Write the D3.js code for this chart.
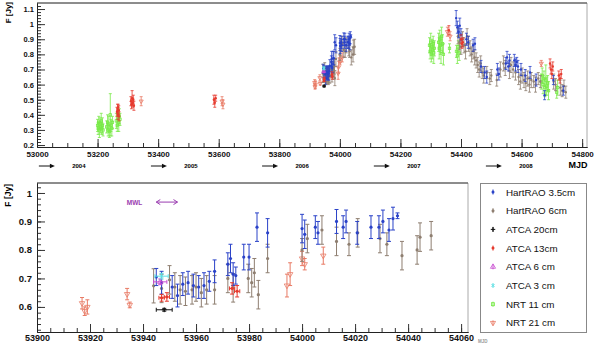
<!DOCTYPE html>
<html>
<head>
<meta charset="utf-8">
<script src="https://cdn.jsdelivr.net/npm/d3@7"></script>
<style>
  body { margin: 0; background: #fff; }
  text { font-family: "Liberation Sans", Arial, sans-serif; }
</style>
</head>
<body>
<svg id="chart" width="600" height="345"></svg>
<script>
// [MJD, flux (Jy), flux error] (+ MJD error for ATCA)
const hart35 = [
  [53945,0.705,0.03],[53947,0.685,0.04],[53951,0.67,0.04],[53953,0.64,0.04],[53955,0.68,0.04],
  [53957,0.685,0.04],[53959,0.675,0.04],[53961,0.67,0.04],[53963,0.675,0.045],[53965,0.69,0.035],
  [53967,0.725,0.04],[53972,0.75,0.04],[53973,0.77,0.05],[53974,0.715,0.04],[53975,0.71,0.03],
  [53978,0.775,0.045],[53980,0.775,0.045],[53983,0.88,0.05],[53987,0.86,0.05],[54000,0.875,0.05],
  [54001,0.855,0.05],[54005,0.88,0.04],[54006,0.86,0.04],[54013,0.9,0.042],[54015.5,0.88,0.04],
  [54016.6,0.9,0.04],[54020.8,0.86,0.04],[54026,0.88,0.04],[54029,0.88,0.04],[54030.5,0.9,0.04],
  [54032.8,0.87,0.04],[54034.3,0.91,0.04],[54036,0.92,0.01],
  [54384,1.04,0.05],[54388,0.98,0.04],[54392,0.95,0.04],[54396,0.99,0.05],[54400,0.93,0.04],
  [54418,0.9,0.04],[54424,0.88,0.04],[54440,0.86,0.04],[54446,0.87,0.04],[54466,0.72,0.04],
  [54478,0.68,0.04],[54485,0.65,0.04],[54520,0.7,0.04],[54525,0.67,0.04],[54548,0.74,0.04],
  [54552,0.78,0.04],[54556,0.72,0.03],[54560,0.76,0.04],[54576,0.76,0.04],[54580,0.73,0.04],
  [54584,0.75,0.03],[54588,0.72,0.04],[54598,0.7,0.04],[54612,0.66,0.04],[54628,0.68,0.04],
  [54648,0.63,0.04],[54676,0.53,0.03],[54705,0.63,0.03],[54738,0.56,0.03]
];
const hart6 = [
  [53944,0.674,0.06],[53947,0.665,0.05],[53950,0.695,0.05],[53952,0.67,0.05],[53954,0.66,0.05],
  [53956,0.655,0.05],[53958.5,0.66,0.05],[53960,0.67,0.05],[53962,0.65,0.05],[53964,0.66,0.05],
  [53967,0.66,0.05],[53972,0.7,0.05],[53974,0.667,0.05],[53979.7,0.7,0.05],[53981,0.685,0.05],
  [53982,0.72,0.05],[53983.5,0.643,0.05],[53987,0.77,0.05],[54000,0.8,0.04],[54002,0.84,0.05],
  [54007.5,0.87,0.05],[54013,0.83,0.05],[54017.7,0.82,0.04],[54021,0.86,0.05],[54029.4,0.84,0.05],
  [54032,0.82,0.04],[54037.7,0.78,0.05],[54043.4,0.8,0.05],[54044.5,0.845,0.05],[54048.7,0.85,0.05],
  [54390,0.92,0.05],[54395,0.88,0.05],[54400,0.85,0.05],[54405,0.9,0.05],[54410,0.86,0.05],
  [54415,0.82,0.05],[54420,0.92,0.05],[54425,0.87,0.05],[54430,0.84,0.05],[54435,0.8,0.05],
  [54440,0.82,0.05],[54445,0.78,0.05],[54450,0.76,0.05],[54455,0.73,0.05],[54460,0.7,0.05],
  [54465,0.74,0.05],[54470,0.68,0.04],[54475,0.66,0.05],[54485,0.68,0.04],[54495,0.64,0.04],
  [54500,0.66,0.04],[54518,0.63,0.04],[54530,0.7,0.05],[54540,0.74,0.05],[54546,0.71,0.05],
  [54560,0.69,0.05],[54565,0.73,0.05],[54572,0.7,0.05],[54580,0.68,0.05],[54590,0.65,0.05],
  [54596,0.62,0.05],[54602,0.66,0.05],[54608,0.63,0.05],[54614,0.61,0.05],[54620,0.64,0.05],
  [54626,0.6,0.05],[54632,0.63,0.05],[54640,0.62,0.04],[54646,0.6,0.05],[54655,0.64,0.04],
  [54662,0.62,0.04],[54706,0.62,0.05],[54712,0.6,0.04],[54728,0.58,0.05],[54734,0.56,0.04],
  [54740,0.59,0.04],[54746,0.55,0.04]
];
const atca20 = [[53948,0.59,0.005,3]];
const atca13 = [
  [53264,0.42,0.03],[53266,0.44,0.03],[53267,0.4,0.03],[53268,0.45,0.02],[53270,0.43,0.03],
  [53271,0.39,0.03],[53310,0.49,0.03],[53312,0.47,0.03],[53314,0.51,0.05],[53316,0.48,0.03],
  [53318,0.5,0.03],[53320,0.46,0.03],[53584,0.5,0.03],[53587,0.48,0.03],[53590,0.51,0.02],
  [53947,0.632,0.012,1],[53949,0.635,0.015,1],[53973.6,0.665,0.02,1],[53975.5,0.655,0.02,1],
  [54360,0.96,0.03],[54400,0.9,0.03],[54403,0.87,0.03],[54406,0.88,0.03],[54694,0.74,0.03],
  [54697,0.7,0.03],[54700,0.67,0.03],[54703,0.72,0.03],[54723,0.66,0.03],[54727,0.64,0.03],
  [54731,0.67,0.03]
];
const atca6 = [[53946.5,0.688,0.01,2.5]];
const atca3 = [[53947,0.708,0.01,2.5]];
const nrt11 = [
  [53200,0.33,0.04],[53202,0.31,0.04],[53204,0.35,0.04],[53206,0.3,0.05],[53208,0.34,0.04],
  [53210,0.32,0.04],[53212,0.36,0.05],[53214,0.31,0.04],[53216,0.33,0.05],[53218,0.3,0.04],
  [53230,0.32,0.04],[53233,0.35,0.05],[53235,0.3,0.04],[53237,0.34,0.05],[53239,0.29,0.04],
  [53242,0.4,0.14],[53244,0.33,0.04],[53247,0.31,0.05],[53249,0.35,0.04],[53262,0.36,0.05],
  [53265,0.33,0.04],[53268,0.38,0.05],[53270,0.35,0.06],[53272,0.39,0.05],[53274,0.37,0.04],
  [54296,0.86,0.05],[54298,0.82,0.05],[54300,0.88,0.06],[54302,0.8,0.05],[54304,0.85,0.05],
  [54306,0.83,0.06],[54308,0.87,0.05],[54310,0.81,0.07],[54312,0.84,0.05],[54326,0.88,0.06],
  [54328,0.84,0.07],[54330,0.9,0.06],[54332,0.86,0.06],[54334,0.82,0.08],[54336,0.92,0.06],
  [54339,0.87,0.06],[54342,0.8,0.07],[54362,0.84,0.03],[54385,0.82,0.04],[54388,0.79,0.05],
  [54391,0.85,0.04],[54394,0.81,0.05],[54665,0.62,0.05],[54668,0.66,0.05],[54671,0.6,0.06],
  [54674,0.64,0.05],[54677,0.58,0.06],[54680,0.63,0.1],[54683,0.59,0.06],[54686,0.61,0.05],
  [54689,0.56,0.06],[54716,0.55,0.04],[54719,0.58,0.05]
];
const nrt21 = [
  [53344,0.49,0.03],[53611,0.49,0.03],[53614,0.47,0.03],[53917,0.613,0.02],[53918,0.585,0.015],
  [53919,0.6,0.025],[53934,0.645,0.02],[53935,0.607,0.01],[53994.3,0.675,0.04],[53995.5,0.715,0.04],
  [54000,0.77,0.025],[54001,0.75,0.02],[54008,0.78,0.03],[54355,0.95,0.03],[54364,0.92,0.03],
  [54665,0.74,0.02]
];

const seriesNames = ["HartRAO 3.5cm", "HartRAO 6cm", "ATCA 20cm", "ATCA 13cm",
                     "ATCA 6 cm", "ATCA 3 cm", "NRT 11 cm", "NRT 21 cm"];
const seriesData = [hart35, hart6, atca20, atca13, atca6, atca3, nrt11, nrt21];
const seriesColors = ["#2a42c8", "#8e7e70", "#111111", "#e63a2e",
                      "#c84cd0", "#5ee0e4", "#78ea48", "#e87a64"];
const seriesMarks = ["dot", "dot", "plus", "dot", "tri", "cross", "square", "tridown"];
// drawing order (back to front)
const drawOrder = [6, 7, 1, 0, 3, 2, 4, 5];

const yearLabels = ["2004", "2005", "2006", "2007", "2008"];
const yearArrowMJD = [53059, 53429, 53796, 54165, 54535];
const mwlRange = [53945, 53953];

const svg = d3.select("#chart");

const xTop = d3.scaleLinear().domain([53000, 54816]).range([37, 587]);
const yTop = d3.scaleLinear().domain([0.187, 1.14]).range([147, 3]);
const xBot = d3.scaleLinear().domain([53900, 54062.6]).range([37, 468]);
const yBot = d3.scaleLinear().domain([0.512, 1.035]).range([332, 183]);

function marker(g, type, color, s) {
  if (type == "dot") {
    g.append("circle").attr("r", s).attr("fill", color);
  } else if (type == "plus") {
    g.append("path").attr("d", `M${-s*1.5},0H${s*1.5}M0,${-s*1.5}V${s*1.5}`)
      .attr("stroke", color).attr("stroke-width", 1);
  } else if (type == "cross") {
    g.append("path").attr("d", `M${-s},${-s}L${s},${s}M${-s},${s}L${s},${-s}`)
      .attr("stroke", color).attr("stroke-width", 1);
  } else if (type == "square") {
    g.append("rect").attr("x", -s).attr("y", -s).attr("width", 2*s).attr("height", 2*s)
      .attr("fill", "none").attr("stroke", color).attr("stroke-width", 0.8);
  } else {
    let sym = d3.symbol().type(d3.symbolTriangle).size(s*s*5);
    g.append("path").attr("d", sym())
      .attr("transform", type == "tridown" ? "rotate(180)" : null)
      .attr("fill", "none").attr("stroke", color).attr("stroke-width", 0.8);
  }
}

function drawPanel(x, y, clipId, cap, size, lw) {
  svg.append("clipPath").attr("id", clipId).append("rect")
    .attr("x", x.range()[0]).attr("y", y.range()[1])
    .attr("width", x.range()[1] - x.range()[0]).attr("height", y.range()[0] - y.range()[1]);
  const plot = svg.append("g").attr("clip-path", `url(#${clipId})`);

  drawOrder.forEach(function(i) {
    const color = seriesColors[i];
    const pts = plot.append("g").selectAll("g").data(seriesData[i]).join("g")
      .attr("transform", d => `translate(${x(d[0])},${y(d[1])})`);
    pts.append("path")
      .attr("d", function(d) {
        const top = y(d[1] + d[2]) - y(d[1]), bot = y(d[1] - d[2]) - y(d[1]);
        let p = `M0,${top}V${bot}M${-cap},${top}H${cap}M${-cap},${bot}H${cap}`;
        if (d[3]) {
          const l = x(d[0] - d[3]) - x(d[0]), r = x(d[0] + d[3]) - x(d[0]);
          p += `M${l},0H${r}M${l},${-cap}V${cap}M${r},${-cap}V${cap}`;
        }
        return p;
      })
      .attr("stroke", color).attr("stroke-width", lw).attr("fill", "none");
    pts.each(function() { marker(d3.select(this), seriesMarks[i], color, size); });
  });

  // frame top and right
  svg.append("path")
    .attr("d", `M${x.range()[0]},${y.range()[1]}H${x.range()[1]}V${y.range()[0]}`)
    .attr("fill", "none").attr("stroke", "#aaa").attr("stroke-width", 1);
  svg.append("line")
    .attr("x1", x.range()[0]).attr("x2", x.range()[1])
    .attr("y1", y.range()[1]).attr("y2", y.range()[1])
    .attr("stroke", "#444");
}

function drawAxes(x, y, xMajor, xMinor, xFont, yFont, xPad, yPad) {
  const x0 = x.range()[0], yb = y.range()[0];
  const yTicks = d3.range(Math.ceil(y.domain()[0]*10), Math.floor(y.domain()[1]*10) + 1).map(v => v/10);
  const yMin = d3.range(Math.ceil(y.domain()[0]*50), Math.floor(y.domain()[1]*50) + 1).map(v => v/50);
  const xTicks = d3.range(x.domain()[0], x.domain()[1] + 1, xMajor);
  const xMin = d3.range(x.domain()[0], x.domain()[1] + 1, xMinor);

  const gx = svg.append("g").attr("transform", `translate(0,${yb})`);
  gx.call(d3.axisBottom(x).tickValues(xMin).tickSize(-4).tickSizeOuter(0).tickFormat(""));
  gx.append("g").call(d3.axisBottom(x).tickValues(xTicks).tickSize(-8).tickSizeOuter(0)
    .tickPadding(xPad).tickFormat(d3.format("d")));
  const gy = svg.append("g").attr("transform", `translate(${x0},0)`);
  gy.call(d3.axisLeft(y).tickValues(yMin).tickSize(-4).tickSizeOuter(0).tickFormat(""));
  gy.append("g").call(d3.axisLeft(y).tickValues(yTicks).tickSize(-8).tickSizeOuter(0)
    .tickPadding(yPad).tickFormat(d => d3.format("~g")(d)));

  svg.selectAll(".domain").attr("stroke", "#222");
  svg.selectAll(".tick line").attr("stroke", "#333");
  gx.selectAll("text").attr("font-size", xFont).attr("font-weight", "bold")
    .attr("fill", "#111").style("font-family", "'Liberation Sans', Arial, sans-serif");
  gy.selectAll("text").attr("font-size", yFont).attr("font-weight", "bold")
    .attr("fill", "#111").style("font-family", "'Liberation Sans', Arial, sans-serif");
}

// top panel
drawPanel(xTop, yTop, "clipTop", 1.5, 1.2, 0.8);
drawAxes(xTop, yTop, 200, 50, 8, 7.5, 4, 3);

svg.append("text").attr("transform", "translate(10.5,2) rotate(-90)")
  .attr("text-anchor", "end").attr("font-size", 8).attr("font-weight", "bold")
  .text("F [Jy]");
svg.append("text").attr("x", 578).attr("y", 168).attr("text-anchor", "middle")
  .attr("font-size", 9).attr("font-weight", "bold").text("MJD");

// year arrows
const arrows = svg.append("g").selectAll("g").data(yearArrowMJD).join("g")
  .attr("transform", d => `translate(${xTop(d)},166)`);
arrows.append("line").attr("x1", -16).attr("x2", -3).attr("stroke", "#111").attr("stroke-width", 1);
arrows.append("path").attr("d", "M0,0L-5,-2.2L-5,2.2Z").attr("fill", "#111");
arrows.append("text").attr("x", 24).attr("y", 2.2).attr("text-anchor", "middle")
  .attr("font-size", 6).attr("font-weight", "bold").text((d, i) => yearLabels[i]);

// bottom panel
drawPanel(xBot, yBot, "clipBot", 2, 1.6, 1);
drawAxes(xBot, yBot, 20, 5, 9, 9.5, 2.5, 5);

svg.append("text").attr("transform", "translate(10.5,184) rotate(-90)")
  .attr("text-anchor", "end").attr("font-size", 8.5).attr("font-weight", "bold")
  .text("F [Jy]");
svg.append("text").attr("x", 478).attr("y", 343).attr("text-anchor", "start")
  .attr("font-size", 4.5).attr("font-weight", "bold").attr("fill", "#999").text("MJD");

// MWL campaign marker
const mwlY = yBot(0.968);
svg.append("text").attr("x", xBot(mwlRange[0]) - 14).attr("y", mwlY + 2.5)
  .attr("text-anchor", "end").attr("font-size", 6.5).attr("font-weight", "bold")
  .attr("fill", "#9a3cb0").text("MWL");
const xa = xBot(mwlRange[0]), xb = xBot(mwlRange[1]);
svg.append("path")
  .attr("d", `M${xa},${mwlY}H${xb}M${xa+4},${mwlY-2.5}L${xa},${mwlY}L${xa+4},${mwlY+2.5}` +
             `M${xb-4},${mwlY-2.5}L${xb},${mwlY}L${xb-4},${mwlY+2.5}`)
  .attr("fill", "none").attr("stroke", "#9a3cb0").attr("stroke-width", 1);

// legend
const legend = svg.append("g");
legend.append("rect").attr("x", 480.5).attr("y", 183.5).attr("width", 106).attr("height", 149)
  .attr("fill", "#fff").attr("stroke", "#888");
const items = legend.selectAll("g.item").data(seriesNames).join("g").attr("class", "item")
  .attr("transform", (d, i) => `translate(493,${192 + i * 18.7})`);
items.each(function(d, i) {
  const g = d3.select(this);
  g.append("line").attr("y1", -2.5).attr("y2", 2.5).attr("stroke", seriesColors[i]).attr("stroke-width", 1);
  marker(g, seriesMarks[i], seriesColors[i], 1.5);
});
items.append("text").attr("x", 13).attr("y", 3.5).attr("font-size", 9.8)
  .attr("fill", "#111").text(d => d);
</script>
</body>
</html>
